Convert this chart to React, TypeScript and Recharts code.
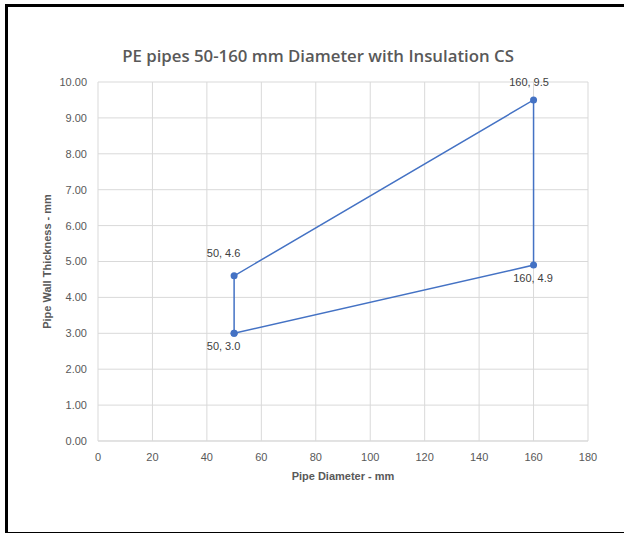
import React from "react";
import { ScatterChart, Scatter, XAxis, YAxis, CartesianGrid, LabelList, Label } from "recharts";

const diameters = [50, 50, 160, 160, 50];
const thickness = [3.0, 4.6, 9.5, 4.9, 3.0];
const pointLabels = ["50, 3.0", "50, 4.6", "160, 9.5", "160, 4.9", ""];
const xTicks = [0, 20, 40, 60, 80, 100, 120, 140, 160, 180];
const yTicks = [0, 1, 2, 3, 4, 5, 6, 7, 8, 9, 10];
const title = "PE pipes 50-160 mm Diameter with Insulation CS";

const labelOffsets: { dx: number; dy: number }[] = [
  { dx: -6, dy: 21 },
  { dx: -6, dy: -14 },
  { dx: 0, dy: -9 },
  { dx: 4, dy: 21 },
  { dx: 0, dy: 0 },
];

const data = diameters.map((d, i) => ({ x: d, y: thickness[i], label: pointLabels[i] }));

const FONT = "'Liberation Sans', Arial, sans-serif";
const TITLE_FONT = "'Open Sans', 'Noto Sans', sans-serif";
const BLUE = "#4472C4";

const renderLabel = (props: any) => {
  const { x, y, index, value } = props;
  if (!value) return null;
  const o = labelOffsets[index] || { dx: 0, dy: 0 };
  return (
    <text
      x={x + o.dx}
      y={y + o.dy}
      textAnchor="middle"
      fontSize={11}
      fontFamily={FONT}
      fill="#404040"
    >
      {value}
    </text>
  );
};

export default function App() {
  return (
    <div style={{ position: "absolute", left: 0, top: 0, width: 624, height: 533, overflow: "hidden", background: "#fff" }}>
      <div
        style={{
          position: "absolute",
          left: 5,
          top: 4,
          width: 700,
          height: 525,
          border: "3px solid #000",
          boxSizing: "content-box",
        }}
      />
      <div
        style={{
          position: "absolute",
          left: 0,
          top: 44,
          width: 636,
          textAlign: "center",
          fontFamily: TITLE_FONT,
          fontWeight: 600,
          fontSize: 16.8,
          color: "#595959",
        }}
      >
        {title}
      </div>
      <div style={{ position: "absolute", left: 0, top: 0 }}>
        <ScatterChart width={624} height={533} margin={{ top: 82, right: 36, left: 0, bottom: 42 }}>
          <CartesianGrid stroke="#d9d9d9" strokeWidth={1} />
          <XAxis
            type="number"
            dataKey="x"
            domain={[0, 180]}
            ticks={xTicks}
            interval={0}
            tickLine={false}
            axisLine={{ stroke: "#d9d9d9" }}
            tick={{ fontSize: 11, fill: "#595959", fontFamily: FONT }}
            tickMargin={6}
            height={50}
          >
            <Label
              value="Pipe Diameter - mm"
              position="insideBottom"
              offset={11}
              style={{ fontSize: 11, fontWeight: 700, fill: "#595959", fontFamily: FONT }}
            />
          </XAxis>
          <YAxis
            type="number"
            dataKey="y"
            domain={[0, 10]}
            ticks={yTicks}
            interval={0}
            tickLine={false}
            axisLine={false}
            tickFormatter={(v: number) => v.toFixed(2)}
            tick={{ fontSize: 11, fill: "#595959", fontFamily: FONT }}
            tickMargin={5}
            width={98}
          >
            <Label
              value="Pipe Wall Thickness - mm"
              angle={-90}
              position="insideLeft"
              offset={47}
              style={{ fontSize: 11, fontWeight: 700, fill: "#595959", fontFamily: FONT, textAnchor: "middle" }}
            />
          </YAxis>
          <Scatter
            data={data}
            fill={BLUE}
            line={{ stroke: BLUE, strokeWidth: 1.5 }}
            shape={(p: any) => <circle cx={p.cx} cy={p.cy} r={3.5} fill={BLUE} />}
            isAnimationActive={false}
          >
            <LabelList dataKey="label" content={renderLabel} />
          </Scatter>
        </ScatterChart>
      </div>
    </div>
  );
}
